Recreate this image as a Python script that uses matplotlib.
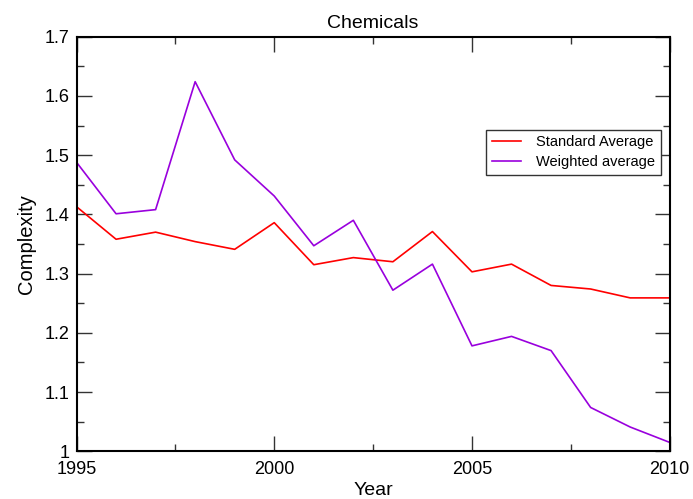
import matplotlib
matplotlib.use("Agg")
import matplotlib.pyplot as plt
from matplotlib.ticker import MultipleLocator

plt.rcParams['font.family'] = ['Liberation Sans', 'DejaVu Sans']

# Data
years = list(range(1995, 2011))
standard_avg = [1.413, 1.358, 1.370, 1.354, 1.341, 1.386, 1.315, 1.327,
                1.320, 1.371, 1.303, 1.316, 1.280, 1.274, 1.259, 1.259]
weighted_avg = [1.488, 1.401, 1.408, 1.624, 1.492, 1.431, 1.347, 1.390,
                1.272, 1.316, 1.178, 1.194, 1.170, 1.074, 1.041, 1.015]

fig = plt.figure(figsize=(6.93, 4.99), dpi=100)
ax = fig.add_axes([0.1104, 0.0956, 0.856, 0.8309])

ax.plot(years, standard_avg, color='#ff0000', lw=1.2, label='Standard Average')
ax.plot(years, weighted_avg, color='#9900dd', lw=1.2, label='Weighted average')

ax.set_xlim(1995, 2010)
ax.set_ylim(1.0, 1.7)
ax.xaxis.set_major_locator(MultipleLocator(5))
ax.xaxis.set_minor_locator(MultipleLocator(2.5))
ax.yaxis.set_major_locator(MultipleLocator(0.1))
ax.yaxis.set_minor_locator(MultipleLocator(0.05))
ax.yaxis.set_major_formatter(plt.FuncFormatter(lambda v, p: f'{v:g}'))

ax.tick_params(which='both', direction='in', top=True, right=True,
               labelsize=13, color='#333333')
ax.tick_params(which='major', length=11, width=1.0, pad=5)
ax.tick_params(axis='x', which='major', pad=7)
ax.tick_params(which='minor', length=5, width=1.0)
for sp in ax.spines.values():
    sp.set_linewidth(1.5)

ax.set_title('Chemicals', fontsize=14, pad=6)
ax.set_xlabel('Year', fontsize=14, labelpad=3)
ax.set_ylabel('Complexity', fontsize=14.5, labelpad=6)

leg = ax.legend(loc='upper right', bbox_to_anchor=(0.985, 0.776), fontsize=10.5,
                fancybox=False, edgecolor='#333333', framealpha=1,
                handlelength=2.0, handletextpad=1.0, borderpad=0.4,
                labelspacing=0.4, borderaxespad=0)
leg.get_frame().set_linewidth(1.0)

fig.savefig('out.png', dpi=100)
